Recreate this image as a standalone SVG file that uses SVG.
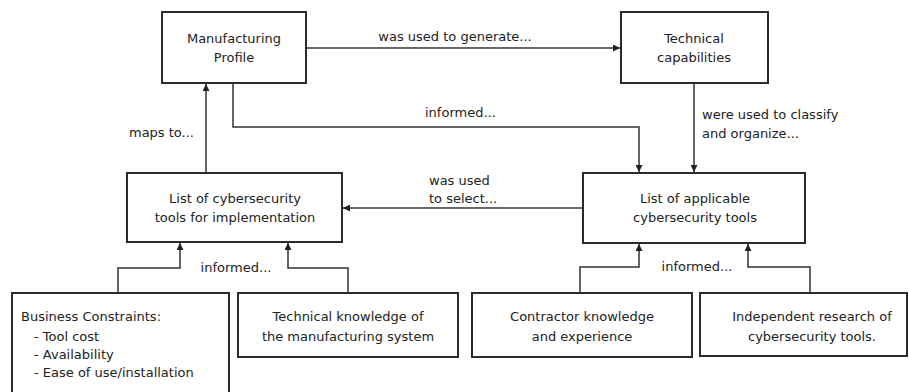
<svg xmlns="http://www.w3.org/2000/svg" width="909" height="392" viewBox="0 0 909 392">
<style>
.box{fill:#fff;stroke:#2b2b2b;stroke-width:2}
.t{font-family:"DejaVu Sans",Verdana,sans-serif;font-size:13px;fill:#222}
.c{text-anchor:middle}
.e{fill:none;stroke:#333;stroke-width:1.5;marker-end:url(#ah)}
</style>
<defs>
<marker id="ah" viewBox="0 0 10 10" refX="10" refY="5" markerWidth="7" markerHeight="7" markerUnits="userSpaceOnUse" orient="auto">
<path d="M0,0 L10,5 L0,10 z" fill="#222"/>
</marker>
</defs>
<rect width="909" height="392" fill="#fff"/>
<g id="connectors">
<path class="e" d="M306,48 H620"/>
<path class="e" d="M694,83 V172"/>
<path class="e" d="M233,83 V127 H639 V172"/>
<path class="e" d="M206,173 V84"/>
<path class="e" d="M583,208 H343"/>
<path class="e" d="M118,293 V268 H180 V243"/>
<path class="e" d="M348,293 V268 H288 V243"/>
<path class="e" d="M580,293 V267 H639 V244"/>
<path class="e" d="M810,293 V267 H748 V244"/>
<text class="t c" x="455" y="41">was used to generate...</text>
<text class="t" x="702" y="119">were used to classify</text>
<text class="t" x="702" y="138">and organize...</text>
<text class="t" x="425" y="117">informed...</text>
<text class="t" x="194" y="137" text-anchor="end">maps to...</text>
<text class="t" x="429" y="185">was used</text>
<text class="t" x="429" y="203">to select...</text>
<text class="t c" x="236" y="272">informed...</text>
<text class="t c" x="697" y="271">informed...</text>
</g>
<g id="manufacturing-profile">
<rect class="box" x="162" y="12" width="144" height="71"/>
<text class="t c" x="234" y="43">Manufacturing</text>
<text class="t c" x="234" y="62">Profile</text>
</g>
<g id="technical-capabilities">
<rect class="box" x="621" y="12" width="147" height="71"/>
<text class="t c" x="694" y="43">Technical</text>
<text class="t c" x="694" y="62">capabilities</text>
</g>
<g id="list-implementation">
<rect class="box" x="127" y="173" width="215" height="69"/>
<text class="t c" x="235" y="203">List of cybersecurity</text>
<text class="t c" x="235" y="222">tools for implementation</text>
</g>
<g id="list-applicable">
<rect class="box" x="583" y="173" width="222" height="70"/>
<text class="t c" x="695" y="203">List of applicable</text>
<text class="t c" x="695" y="222">cybersecurity tools</text>
</g>
<g id="business-constraints">
<rect class="box" x="12" y="293" width="217" height="104"/>
<text class="t" x="21" y="321">Business Constraints:</text>
<text class="t" x="34" y="341">- Tool cost</text>
<text class="t" x="34" y="359">- Availability</text>
<text class="t" x="34" y="377">- Ease of use/installation</text>
</g>
<g id="technical-knowledge">
<rect class="box" x="238" y="293" width="220" height="64"/>
<text class="t c" x="348" y="321">Technical knowledge of</text>
<text class="t c" x="348" y="341">the manufacturing system</text>
</g>
<g id="contractor-knowledge">
<rect class="box" x="472" y="293" width="220" height="64"/>
<text class="t c" x="582" y="321">Contractor knowledge</text>
<text class="t c" x="582" y="341">and experience</text>
</g>
<g id="independent-research">
<rect class="box" x="700" y="293" width="207" height="63"/>
<text class="t c" x="812" y="321">Independent research of</text>
<text class="t c" x="812" y="341">cybersecurity tools.</text>
</g>
</svg>
